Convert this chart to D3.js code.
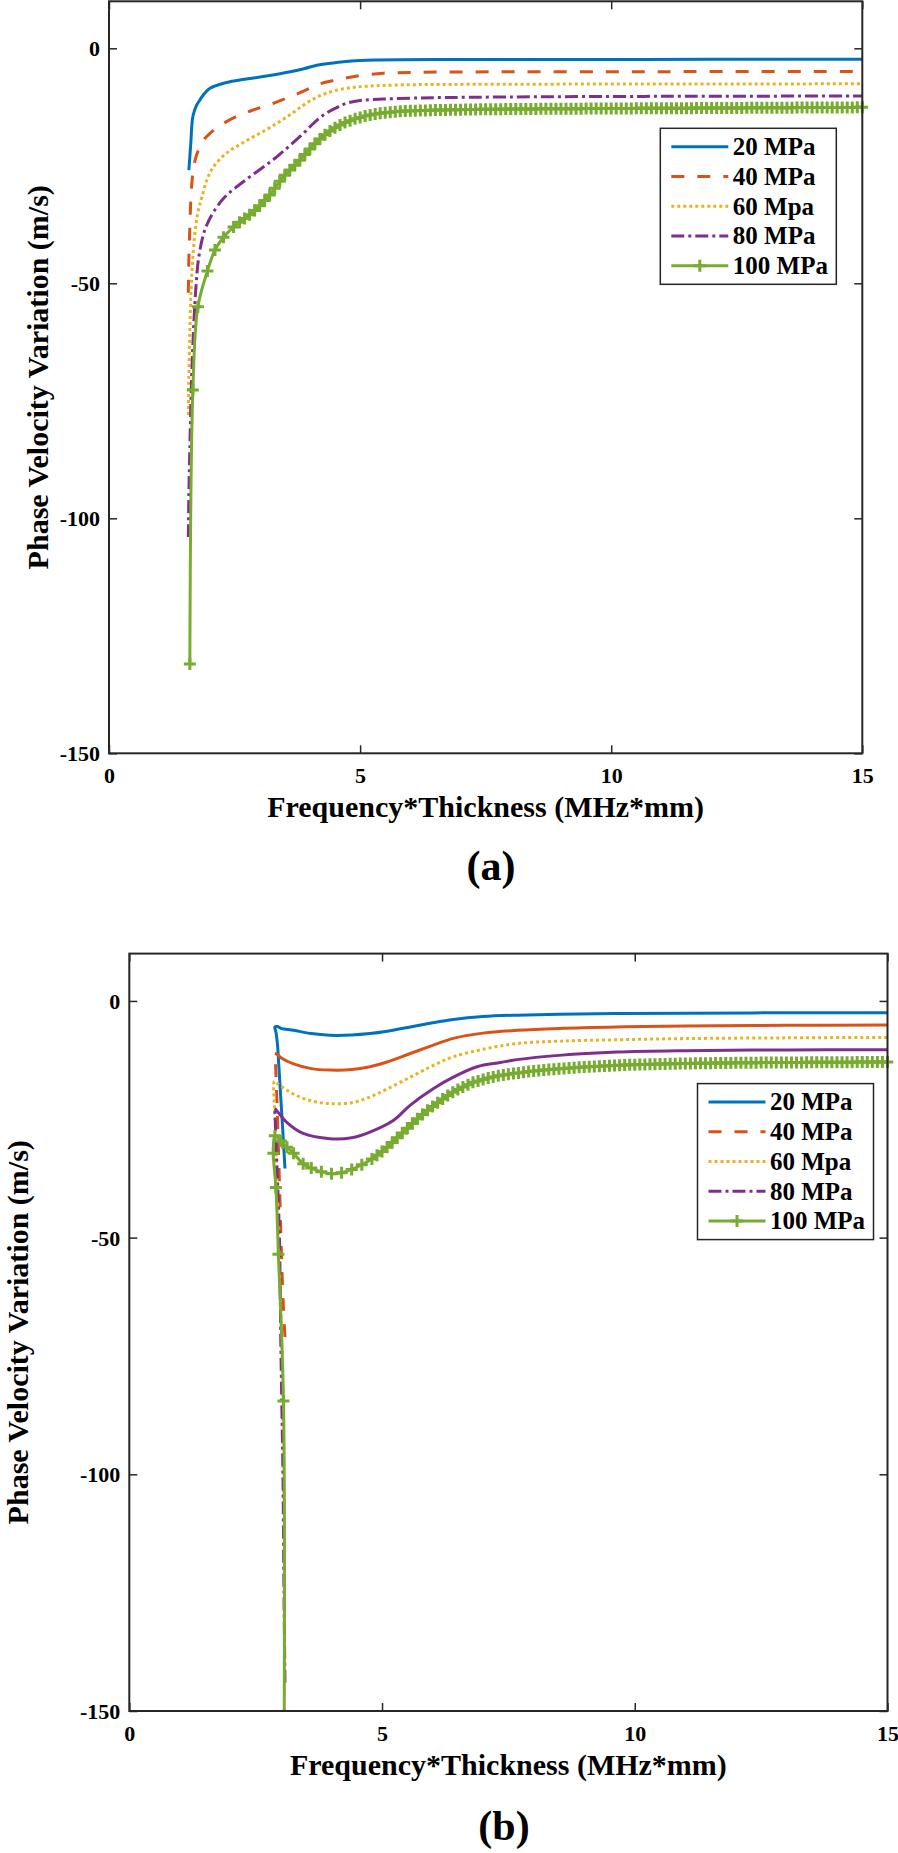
<!DOCTYPE html>
<html><head><meta charset="utf-8">
<script src="https://cdn.jsdelivr.net/npm/d3@7"></script>
<style>body{margin:0;background:#fff}</style>
</head><body>
<svg id="c" width="898" height="1853"></svg>
<script>
// ---------- data ----------
const seriesNames = ["20 MPa", "40 MPa", "60 Mpa", "80 MPa", "100 MPa"];
const xTicks = [0, 5, 10, 15];
const yTicks = [0, -50, -100, -150];
const xDomain = [0, 15];
const yDomain = [-150, 10];

// panel (a)
const a20x = [1.59,1.61,1.63,1.67,1.74,1.81,1.90,2.01,2.2,2.41,2.7,3.07,3.35,3.61,3.9,4.14,4.4,4.67,5.0,5.33,5.8,6.5,8,10,12,15];
const a20y = [-25.9,-23,-20,-14.5,-12.2,-11,-9.6,-8.5,-7.7,-7.1,-6.6,-6.0,-5.5,-5.0,-4.3,-3.6,-3.2,-2.85,-2.6,-2.5,-2.45,-2.4,-2.4,-2.4,-2.35,-2.35];
const a40x = [1.58,1.59,1.61,1.63,1.66,1.70,1.75,1.81,1.9,2.01,2.2,2.54,2.8,3.07,3.35,3.61,3.9,4.14,4.4,4.67,5.0,5.46,6.0,6.7,8,10,12,15];
const a40y = [-52,-45,-38,-32,-27.5,-24.5,-22.5,-20.9,-19.3,-18.1,-16.5,-14.5,-13.4,-12.4,-11.4,-10.3,-9.0,-7.8,-7.0,-6.4,-5.8,-5.3,-5.15,-5.05,-5.0,-5.0,-4.95,-4.95];
const a60x = [1.58,1.59,1.61,1.64,1.68,1.73,1.79,1.85,1.95,2.08,2.34,2.6,2.88,3.15,3.41,3.65,3.87,4.07,4.27,4.5,4.8,5.1,5.46,6.0,6.5,8,10,12,15];
const a60y = [-78,-70,-60,-50,-43,-37.5,-34,-31.6,-28,-25.2,-22.3,-20.5,-18.8,-17.2,-15.5,-13.8,-12.1,-10.8,-9.8,-9.0,-8.4,-8.1,-7.9,-7.75,-7.7,-7.65,-7.6,-7.6,-7.55];
const a80x = [1.58,1.59,1.61,1.64,1.68,1.73,1.78,1.87,1.95,2.1,2.31,2.55,2.81,3.08,3.34,3.6,3.87,4.07,4.27,4.5,4.73,5.0,5.46,6.0,6.5,8,10,12,15];
const a80y = [-104,-95,-85,-72,-60.6,-51,-45,-40,-37.5,-34.5,-31.6,-29.4,-27.3,-25.2,-23.1,-20.7,-18.1,-16.0,-14.2,-12.8,-11.7,-11.1,-10.8,-10.6,-10.5,-10.35,-10.25,-10.2,-10.15];
const a100x = [1.61,1.67,1.77,1.96,2.11,2.28,2.48,
  2.6,2.7,2.8,2.9,3.0,3.1,3.2,3.3,3.4,3.5,3.6,3.7,3.8,3.9,4.0,4.1,4.2,4.3,4.4,4.5,4.6,4.7,4.8,4.9,5.0,
  5.1,5.2,5.3,5.4,5.5,5.6,5.7,5.8,5.9,6.0,
  6.1,6.2,6.3,6.4,6.5,6.6,6.7,6.8,6.9,7.0,
  7.1,7.2,7.3,7.4,7.5,7.6,7.7,7.8,7.9,8.0,
  8.1,8.2,8.3,8.4,8.5,8.6,8.7,8.8,8.9,9.0,
  9.1,9.2,9.3,9.4,9.5,9.6,9.7,9.8,9.9,10.0,
  10.1,10.2,10.3,10.4,10.5,10.6,10.7,10.8,10.9,11.0,
  11.1,11.2,11.3,11.4,11.5,11.6,11.7,11.8,11.9,12.0,
  12.1,12.2,12.3,12.4,12.5,12.6,12.7,12.8,12.9,13.0,
  13.1,13.2,13.3,13.4,13.5,13.6,13.7,13.8,13.9,14.0,
  14.1,14.2,14.3,14.4,14.5,14.6,14.7,14.8,14.9,15.0];
const a100y = [-131,-72.7,-55,-47.4,-42.9,-40.2,-38.0,
  -37.0,-36.2,-35.4,-34.5,-33.5,-32.4,-31.2,-29.8,-28.3,-27.0,-25.9,-24.9,-23.8,-22.6,-21.4,-20.3,-19.3,-18.4,-17.6,-16.9,-16.3,-15.8,-15.4,-15.0,-14.7,
  -14.4,-14.2,-14.0,-13.8,-13.7,-13.6,-13.5,-13.4,-13.35,-13.3,
  -13.27,-13.24,-13.21,-13.18,-13.15,-13.13,-13.11,-13.09,-13.07,-13.05,
  -13.03,-13.02,-13.0,-12.99,-12.98,-12.97,-12.96,-12.95,-12.94,-12.93,
  -12.92,-12.91,-12.9,-12.9,-12.89,-12.88,-12.88,-12.87,-12.86,-12.86,
  -12.85,-12.85,-12.84,-12.84,-12.83,-12.83,-12.82,-12.82,-12.81,-12.81,
  -12.8,-12.8,-12.79,-12.79,-12.78,-12.78,-12.77,-12.77,-12.76,-12.76,
  -12.75,-12.75,-12.74,-12.74,-12.73,-12.73,-12.72,-12.72,-12.71,-12.71,
  -12.7,-12.7,-12.69,-12.69,-12.68,-12.68,-12.67,-12.67,-12.66,-12.66,
  -12.65,-12.65,-12.64,-12.64,-12.63,-12.63,-12.62,-12.62,-12.61,-12.61,
  -12.6,-12.6,-12.59,-12.59,-12.58,-12.58,-12.57,-12.57,-12.56,-12.55];

// panel (b)
const b20x = [3.08,3.04,3.0,2.96,2.93,2.9,2.88,2.93,3.0,3.25,3.6,3.97,4.4,4.76,5.1,5.56,6.0,6.41,7.0,7.67,8.5,9.65,11,13,15];
const b20y = [-35.4,-28,-21,-14,-9,-6.5,-5.5,-5.4,-5.8,-6.2,-6.9,-7.25,-7.2,-6.9,-6.4,-5.5,-4.6,-3.9,-3.3,-3.0,-2.8,-2.67,-2.6,-2.5,-2.5];
const b40x = [3.08,3.05,3.03,3.0,2.98,2.95,2.92,2.895,2.88,2.93,3.0,3.25,3.6,3.97,4.4,4.76,5.1,5.56,6.0,6.41,7.0,7.67,8.5,9.65,11,13,15];
const b40y = [-71,-65,-59.7,-50,-42,-31,-21,-14,-11.1,-11.3,-12,-13.3,-14.3,-14.6,-14.5,-13.9,-12.9,-11.1,-9.4,-7.9,-6.8,-6.2,-5.8,-5.5,-5.3,-5.15,-5.1];
const b60x = [3.05,3.04,3.02,2.98,2.95,2.92,2.89,2.87,2.9,3.0,3.25,3.6,3.97,4.4,4.76,5.1,5.56,6.0,6.41,7.0,7.67,8.5,9.65,11,13,15];
const b60y = [-107.6,-95,-75,-60,-50,-38,-26,-17,-17.2,-18,-19.7,-21.1,-21.7,-21.5,-20.3,-18.6,-16.1,-13.7,-11.8,-10.2,-9.0,-8.5,-8.2,-7.95,-7.8,-7.7];
const b80x = [3.08,3.06,3.04,3.02,3.0,2.97,2.94,2.91,2.89,2.88,2.95,3.11,3.44,3.97,4.4,4.76,5.23,5.56,6.02,6.41,6.88,7.34,7.67,8.5,9.65,11,13,15];
const b80y = [-144,-125,-100,-87,-74,-50,-40,-32,-26,-22.7,-23.6,-25.6,-28,-29.1,-28.9,-27.7,-25.2,-22,-18.5,-16.1,-13.9,-13.0,-12.4,-11.5,-10.8,-10.5,-10.35,-10.3];
const b100x = [3.06,3.05,2.95,2.9,2.85,2.88,3.0,3.12,3.25,3.44,3.6,3.8,4.0,4.2,4.4,4.6,
  4.8,4.9,5.0,5.1,5.2,5.3,5.4,5.5,5.6,5.7,5.8,5.9,6.0,
  6.1,6.2,6.3,6.4,6.5,6.6,6.7,6.8,6.9,7.0,
  7.1,7.2,7.3,7.4,7.5,7.6,7.7,7.8,7.9,8.0,
  8.1,8.2,8.3,8.4,8.5,8.6,8.7,8.8,8.9,9.0,
  9.1,9.2,9.3,9.4,9.5,9.6,9.7,9.8,9.9,10.0,
  10.1,10.2,10.3,10.4,10.5,10.6,10.7,10.8,10.9,11.0,
  11.1,11.2,11.3,11.4,11.5,11.6,11.7,11.8,11.9,12.0,
  12.1,12.2,12.3,12.4,12.5,12.6,12.7,12.8,12.9,13.0,
  13.1,13.2,13.3,13.4,13.5,13.6,13.7,13.8,13.9,14.0,
  14.1,14.2,14.3,14.4,14.5,14.6,14.7,14.8,14.9,15.0];
const b100y = [-165,-84.5,-53.5,-39.4,-32.2,-28.5,-29.6,-30.9,-32.2,-34.4,-35.3,-36.1,-36.5,-36.3,-35.6,-34.6,
  -33.4,-32.6,-31.8,-30.9,-29.9,-28.9,-27.9,-26.9,-25.9,-24.9,-24.0,-23.1,-22.3,
  -21.5,-20.7,-20.0,-19.3,-18.7,-18.2,-17.7,-17.2,-16.9,-16.6,
  -16.3,-16.05,-15.8,-15.65,-15.5,-15.35,-15.2,-15.05,-14.9,-14.8,
  -14.7,-14.6,-14.5,-14.42,-14.34,-14.26,-14.18,-14.1,-14.03,-13.96,
  -13.9,-13.84,-13.78,-13.72,-13.67,-13.62,-13.58,-13.54,-13.5,-13.47,
  -13.44,-13.41,-13.38,-13.35,-13.32,-13.3,-13.28,-13.26,-13.24,-13.22,
  -13.2,-13.18,-13.17,-13.15,-13.14,-13.12,-13.11,-13.1,-13.09,-13.08,
  -13.07,-13.06,-13.05,-13.04,-13.03,-13.02,-13.01,-13.0,-13.0,-12.99,
  -12.99,-12.98,-12.98,-12.97,-12.97,-12.96,-12.96,-12.95,-12.95,-12.94,
  -12.94,-12.93,-12.93,-12.92,-12.92,-12.91,-12.91,-12.9,-12.9,-12.9];

// ---------- styles ----------
const colors = ["#0072BD", "#D95319", "#EDB120", "#7E2F8E", "#77AC30"];
const dashes = [null, "13,13", "3,3", "13,4,3,4", null];
const FONT = "'Liberation Serif','Times New Roman',Times,serif";
const AXC = "#262626";

const svg = d3.select("#c");
svg.append("rect").attr("width", 898).attr("height", 1853).attr("fill", "#fff");

const zip = (xs, ys) => xs.map((v, i) => [v, ys[i]]);

function panel(o) {
  const g = svg.append("g");
  const x = d3.scaleLinear().domain(xDomain).range([o.x0, o.x1]);
  const y = d3.scaleLinear().domain(yDomain).range([o.y1, o.y0]);
  const cid = "clip" + o.tag.replace(/\W/g, "");
  const defs = svg.append("defs");
  defs.append("clipPath").attr("id", cid).append("rect")
    .attr("x", o.x0).attr("y", o.y0).attr("width", o.x1 - o.x0).attr("height", o.y1 - o.y0);
  defs.append("clipPath").attr("id", cid + "m").append("rect")
    .attr("x", o.x0 - 6).attr("y", o.y0 - 6).attr("width", o.x1 - o.x0 + 12).attr("height", o.y1 - o.y0 + 6);

  const line = d3.line().x(d => x(d[0])).y(d => y(d[1])).curve(d3.curveCatmullRom.alpha(0.5));
  const lg = g.append("g").attr("clip-path", `url(#${cid})`);
  const mg = g.append("g").attr("clip-path", `url(#${cid}m)`);

  o.series.forEach((pts, i) => {
    let parts = [[pts, dashes[i]]];
    if (o.solidTrough && o.solidTrough[i]) {
      let k = 0;
      while (k + 1 < pts.length && pts[k + 1][1] >= pts[k][1]) k++;
      parts = [[pts.slice(0, k + 1), dashes[i]], [pts.slice(k), null]];
    }
    parts.forEach(([p, da]) => {
      lg.append("path").attr("d", line(p)).attr("fill", "none")
        .attr("stroke", colors[i]).attr("stroke-width", 3)
        .attr("stroke-dasharray", da).attr("stroke-linejoin", "round");
    });
    if (i === 4) {
      mg.selectAll(null).data(pts).join("path")
        .attr("d", "M-6,0H6M0,-6V6")
        .attr("transform", d => `translate(${x(d[0])},${y(d[1])})`)
        .attr("stroke", colors[i]).attr("stroke-width", 3).attr("fill", "none");
    }
  });

  // axes box + ticks
  const fmt = d => String(d);
  const styleAx = s => {
    s.attr("font-family", FONT).attr("font-size", 22).attr("font-weight", "bold").attr("color", AXC);
    s.select(".domain").remove();
    s.selectAll(".tick line").attr("stroke-width", 1.5);
    s.selectAll("text").attr("fill", "#000");
  };
  const bx = g.append("g").attr("transform", `translate(0,${o.y1})`)
    .call(d3.axisBottom(x).tickValues(xTicks).tickSizeInner(-8).tickSizeOuter(0).tickFormat(fmt));
  styleAx(bx); bx.selectAll("text").attr("y", 30).attr("dy", null);
  const tx = g.append("g").attr("transform", `translate(0,${o.y0})`)
    .call(d3.axisTop(x).tickValues(xTicks).tickSizeInner(-8).tickSizeOuter(0).tickFormat(""));
  styleAx(tx);
  const ly = g.append("g").attr("transform", `translate(${o.x0},0)`)
    .call(d3.axisLeft(y).tickValues(yTicks).tickSizeInner(-8).tickSizeOuter(0).tickPadding(9).tickFormat(fmt));
  styleAx(ly); ly.selectAll("text").attr("dy", "0.34em");
  const ry = g.append("g").attr("transform", `translate(${o.x1},0)`)
    .call(d3.axisRight(y).tickValues(yTicks).tickSizeInner(-8).tickSizeOuter(0).tickFormat(""));
  styleAx(ry);
  g.append("rect").attr("x", o.x0).attr("y", o.y0).attr("width", o.x1 - o.x0).attr("height", o.y1 - o.y0)
    .attr("fill", "none").attr("stroke", AXC).attr("stroke-width", 2);

  // axis labels
  g.append("text").attr("x", (o.x0 + o.x1) / 2).attr("y", o.y1 + 64)
    .attr("text-anchor", "middle").attr("font-family", FONT).attr("font-weight", "bold")
    .attr("font-size", 30).text("Frequency*Thickness (MHz*mm)");
  g.append("text").attr("transform", `translate(${o.ylabX},${(o.y0 + o.y1) / 2}) rotate(-90)`)
    .attr("text-anchor", "middle").attr("font-family", FONT).attr("font-weight", "bold")
    .attr("font-size", 30).text("Phase Velocity Variation (m/s)");
  g.append("text").attr("x", o.tagX).attr("y", o.tagY).attr("text-anchor", "middle")
    .attr("font-family", FONT).attr("font-weight", "bold").attr("font-size", 42).text(o.tag);

  // legend
  const L = g.append("g").attr("transform", `translate(${o.x1 - o.legR - 176},${o.y0 + o.legT})`);
  L.append("rect").attr("width", 176).attr("height", 156).attr("fill", "#fff")
    .attr("stroke", AXC).attr("stroke-width", 1.5);
  seriesNames.forEach((nm, i) => {
    const cy = 18.4 + 29.75 * i;
    L.append("line").attr("x1", 11).attr("x2", 68).attr("y1", cy).attr("y2", cy)
      .attr("stroke", colors[i]).attr("stroke-width", 3).attr("stroke-dasharray", dashes[i]);
    if (i === 4) L.append("path").attr("d", "M-6,0H6M0,-6V6")
      .attr("transform", `translate(39.5,${cy})`).attr("stroke", colors[i]).attr("stroke-width", 3);
    L.append("text").attr("x", 72.5).attr("y", cy + 8.5).attr("font-family", FONT)
      .attr("font-weight", "bold").attr("font-size", 25).attr("fill", "#000").text(nm);
  });
}

panel({
  x0: 109, x1: 862.3, y0: 1.3, y1: 753.3,
  series: [zip(a20x, a20y), zip(a40x, a40y), zip(a60x, a60y), zip(a80x, a80y), zip(a100x, a100y)],
  ylabX: 48, tagX: 491, tagY: 880, tag: "(a)", legR: 26, legT: 127
});
panel({
  x0: 129.3, x1: 887.5, y0: 953.6, y1: 1711,
  series: [zip(b20x, b20y), zip(b40x, b40y), zip(b60x, b60y), zip(b80x, b80y), zip(b100x, b100y)],
  solidTrough: [false, true, false, true, false],
  ylabX: 28, tagX: 504, tagY: 1840, tag: "(b)", legR: 14, legT: 130
});
</script>
</body></html>
